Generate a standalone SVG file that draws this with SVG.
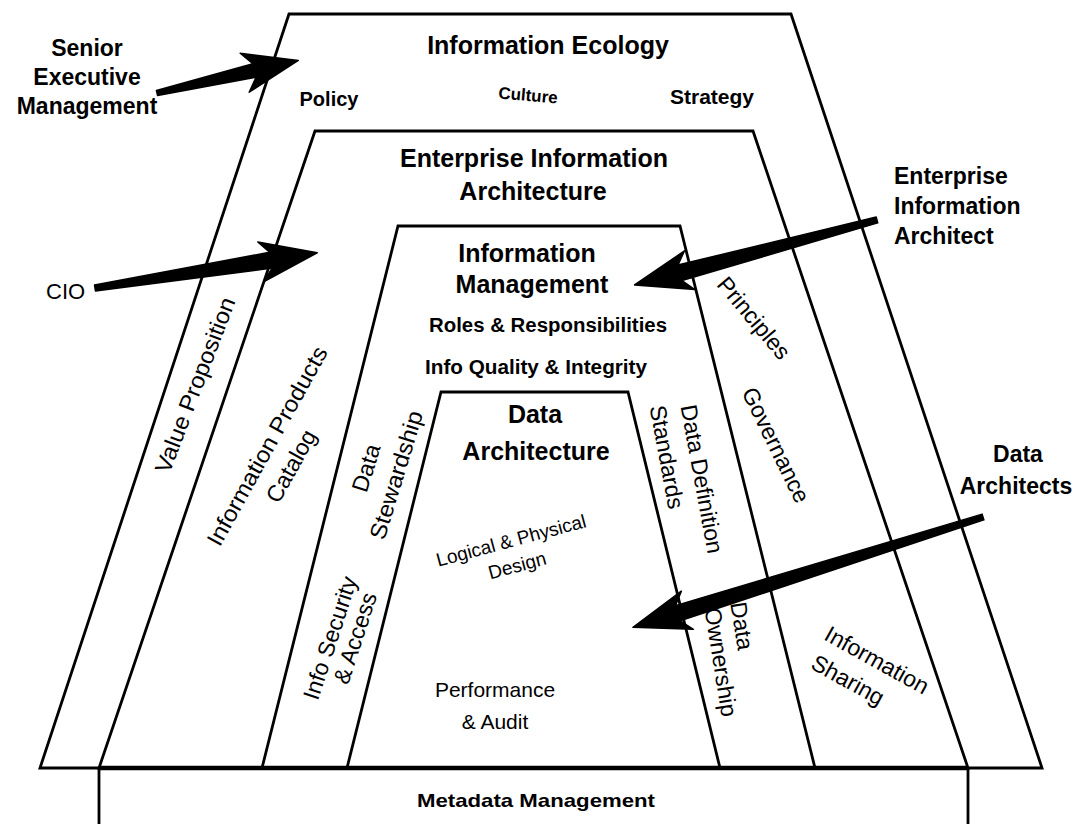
<svg xmlns="http://www.w3.org/2000/svg" width="1076" height="824" viewBox="0 0 1076 824">
<style>
.shape{fill:#fff;stroke:#000;stroke-width:2.8;stroke-linejoin:miter}
.base{stroke:#000;stroke-width:4.5}
text{font-family:"Liberation Sans",Arial,Helvetica,sans-serif;fill:#000}
.b{font-weight:bold}
.m{text-anchor:middle}
.title{font-weight:bold;text-anchor:middle;font-size:25px}
.band{font-size:23px;text-anchor:middle}
.side{font-weight:bold;font-size:23px}
.arrow{fill:#000;stroke:#000;stroke-width:1.5;stroke-linejoin:round}
</style>
<rect width="1076" height="824" fill="#fff"/>

<g id="metadata">
<rect class="shape" x="99" y="768" width="869" height="70"/>
<text class="b m" x="536" y="807" font-size="19" textLength="238" lengthAdjust="spacingAndGlyphs">Metadata Management</text>
</g>

<g id="ecology">
<polygon class="shape" points="289,14 791,14 1042,768 40,768"/>
<text class="title" x="548" y="54" font-size="24">Information Ecology</text>
<text class="b m" x="329" y="106" font-size="20">Policy</text>
<text class="b m" x="528" y="101" font-size="17" transform="rotate(5 528 96)">Culture</text>
<text class="b m" x="712" y="104" font-size="21">Strategy</text>
<text class="band" transform="translate(195,385) rotate(-69)" y="8" textLength="186" lengthAdjust="spacingAndGlyphs">Value Proposition</text>
</g>

<g id="eia">
<polygon class="shape" points="315,131 753,131 968,768 99,768"/>
<text class="title" x="534" y="167">Enterprise Information</text>
<text class="title" x="533" y="200">Architecture</text>
<text class="band" transform="translate(267,446) rotate(-61)" y="8" textLength="224" lengthAdjust="spacingAndGlyphs">Information Products</text>
<text class="band" transform="translate(291,466) rotate(-61)" y="8">Catalog</text>
<text class="band" transform="translate(754,318) rotate(50)" y="8">Principles</text>
<text class="band" transform="translate(776,445) rotate(64)" y="8">Governance</text>
<text class="band" transform="translate(877,660) rotate(29)" y="8" font-size="22">Information</text>
<text class="band" transform="translate(848,680) rotate(29)" y="8" font-size="22">Sharing</text>
</g>

<g id="im">
<polygon class="shape" points="398,226 680,226 815,768 262,768"/>
<text class="title" x="527" y="262">Information</text>
<text class="title" x="532" y="293" font-size="26">Management</text>
<text class="b m" x="548" y="332" font-size="20" textLength="238" lengthAdjust="spacingAndGlyphs">Roles &amp; Responsibilities</text>
<text class="b m" x="536" y="374" font-size="20" textLength="222" lengthAdjust="spacingAndGlyphs">Info Quality &amp; Integrity</text>
<text class="band" transform="translate(366,468) rotate(-73)" y="8">Data</text>
<text class="band" transform="translate(396,475) rotate(-73)" y="8" textLength="133" lengthAdjust="spacingAndGlyphs">Stewardship</text>
<text class="band" transform="translate(330,638) rotate(-72)" y="8">Info Security</text>
<text class="band" transform="translate(355,638) rotate(-72)" y="8">&amp; Access</text>
<text class="band" transform="translate(702,479) rotate(79.5)" y="8" font-size="24">Data Definition</text>
<text class="band" transform="translate(667,457) rotate(79.5)" y="8" font-size="24">Standards</text>
<text class="band" transform="translate(742,626) rotate(81)" y="8" font-size="20">Data</text>
<text class="band" transform="translate(721,662) rotate(81)" y="8" font-size="20">Ownership</text>
</g>

<g id="da">
<polygon class="shape" points="441,392 628,392 720,768 347,768"/>
<text class="title" x="535" y="423" font-size="26">Data</text>
<text class="title" x="536" y="460">Architecture</text>
<text class="m" transform="translate(511,540) rotate(-15)" y="7" font-size="19">Logical &amp; Physical</text>
<text class="m" transform="translate(517,565) rotate(-15)" y="7" font-size="19">Design</text>
<text class="m" x="495" y="697" font-size="21">Performance</text>
<text class="m" x="495" y="729" font-size="21">&amp; Audit</text>
</g>

<line class="base" x1="99" y1="768" x2="968" y2="768"/>

<g id="senior-executive-management">
<text class="side m" x="87" y="56">Senior</text>
<text class="side m" x="87" y="85">Executive</text>
<text class="side m" x="87" y="114">Management</text>
</g>
<g id="cio">
<text x="46" y="299" font-size="22">CIO</text>
</g>
<g id="enterprise-information-architect">
<text class="side" x="894" y="184">Enterprise</text>
<text class="side" x="894" y="214">Information</text>
<text class="side" x="894" y="244">Architect</text>
</g>
<g id="data-architects">
<text class="side m" x="1018" y="462">Data</text>
<text class="side m" x="1016" y="494">Architects</text>
</g>

<g id="connectors">
<path class="arrow" transform="translate(157,93) rotate(-13)" d="M0,-2.5 L100,-7 L90,-20 L145,0 L90,20 L100,7 L0,2.5 Z"/>
<path class="arrow" transform="translate(95,288) rotate(-9)" d="M0,-3 L178,-8 L168,-20 L225,0 L168,20 L178,8 L0,3 Z"/>
<path class="arrow" transform="translate(877,220) rotate(165)" d="M0,-3 L204,-8 L194,-20 L251,0 L194,20 L204,8 L0,3 Z"/>
<path class="arrow" transform="translate(983,517) rotate(162.5)" d="M0,-3 L320,-8 L310,-20 L367,0 L310,20 L320,8 L0,3 Z"/>
</g>
</svg>
